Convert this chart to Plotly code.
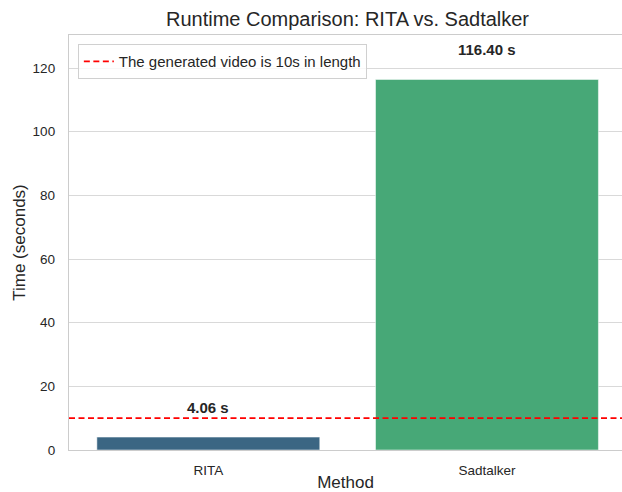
import plotly.graph_objects as go

methods = ["RITA", "Sadtalker"]
runtimes = [4.06, 116.40]
bar_colors = ["#3b6683", "#47a877"]
threshold = 10
threshold_label = "The generated video is 10s in length"
y_ticks = [0, 20, 40, 60, 80, 100, 120]

text_color = "#262626"
grid_color = "#d9d9d9"
font_family = "Liberation Sans, Arial, sans-serif"

fig = go.Figure()
fig.add_trace(go.Bar(
    x=methods, y=runtimes, width=0.8,
    marker=dict(color=bar_colors, line=dict(color="rgba(255,255,255,0.5)", width=1)),
    showlegend=False, hoverinfo="x+y",
))

fig.add_shape(type="line", xref="paper", x0=0, x1=1, yref="y", y0=threshold, y1=threshold,
              line=dict(color="red", width=1.6, dash="6px,3.5px"),
              showlegend=True, name=threshold_label, layer="above")

for m, v in zip(methods, runtimes):
    fig.add_annotation(x=m, y=v + 9.4, text=f"<b>{v:.2f} s</b>", showarrow=False,
                       font=dict(size=15, color=text_color, family=font_family),
                       xanchor="center", yanchor="middle")

fig.update_layout(
    width=622, height=492,
    margin=dict(l=69, r=0, t=35, b=42, autoexpand=False),
    paper_bgcolor="white", plot_bgcolor="white",
    font=dict(family=font_family, color=text_color, size=13.5),
    title=dict(text="Runtime Comparison: RITA vs. Sadtalker", x=(69 + 626) / 2 / 622, xanchor="center",
               y=1 - 19 / 492, yanchor="middle",
               font=dict(size=20, color=text_color, family=font_family)),
    bargap=0.2,
    legend=dict(x=0.016, y=0.978, xanchor="left", yanchor="top",
                bgcolor="rgba(255,255,255,0.8)", bordercolor="#d0d0d0", borderwidth=1,
                font=dict(size=15, color=text_color, family=font_family),
                itemwidth=30),
)

fig.update_xaxes(
    type="category", range=[-0.5, 1.4846], showgrid=False, automargin=False,
    showline=True, linecolor="#cccccc", linewidth=1.3, mirror=True,
    ticks="outside", ticklen=8, tickcolor="rgba(0,0,0,0)",
    tickfont=dict(size=13.5, color=text_color),
    title=dict(text="Method", font=dict(size=17, color=text_color), standoff=5),
    fixedrange=True,
)
fig.update_yaxes(
    range=[0, 116.40 * 1.12], tickvals=y_ticks, showgrid=True, gridcolor=grid_color, gridwidth=1,
    zeroline=False, showline=True, linecolor="#cccccc", linewidth=1.3, automargin=False,
    ticks="outside", ticklen=10, tickcolor="rgba(0,0,0,0)",
    tickfont=dict(size=13.5, color=text_color),
    title=dict(text="Time (seconds)", font=dict(size=17, color=text_color), standoff=2),
    fixedrange=True,
)

fig.write_html("out.html", config={"displayModeBar": False},
               post_script="document.body.style.margin='0';document.body.style.padding='0';")
